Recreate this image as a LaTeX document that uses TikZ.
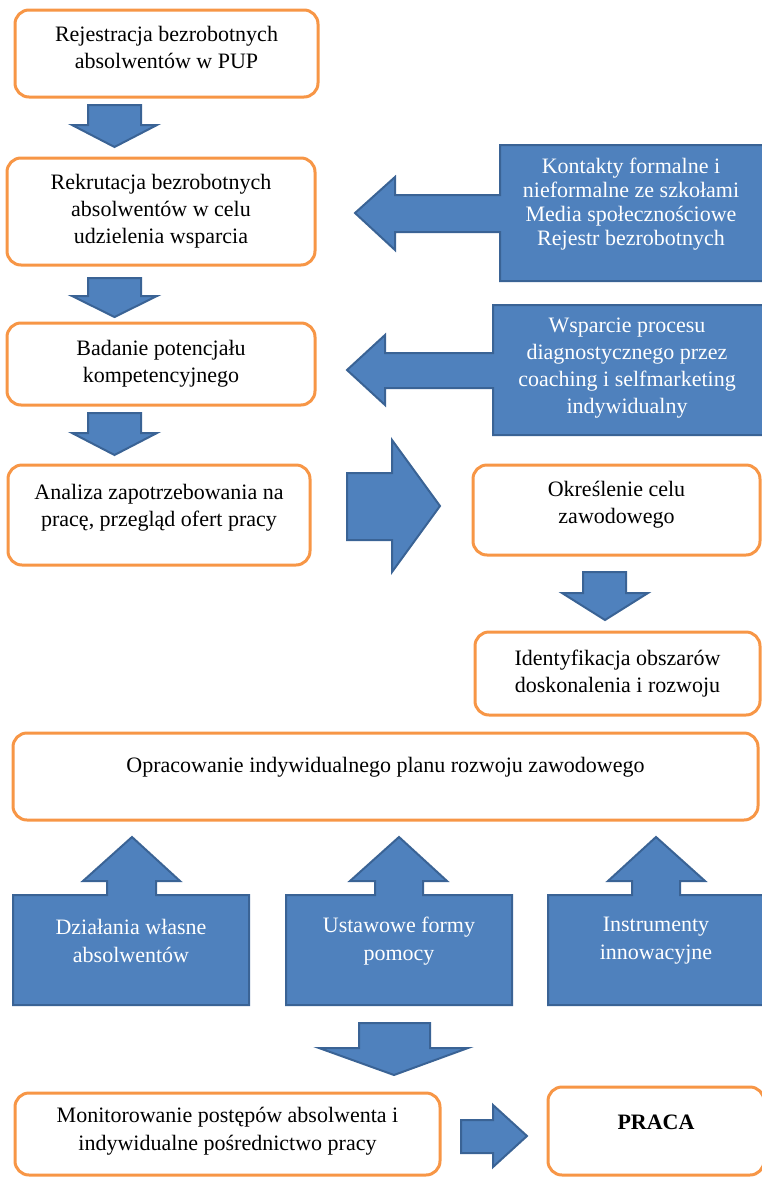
\documentclass[tikz,border=0pt]{standalone}
\usepackage{fontspec}
\setmainfont{Liberation Serif}
\usepackage{xcolor}
\usepackage{tikz}
\usetikzlibrary{positioning}

\definecolor{pomarancz}{HTML}{F79646}
\definecolor{niebieski}{HTML}{4F81BD}
\definecolor{ciemny}{HTML}{3A6395}

\begin{document}
\begin{tikzpicture}[
        x=1pt,
        y=-1pt,
        okno/.style={
            line width=3pt,
            draw=pomarancz,
            fill=white,
            rounded corners=14pt
        },
        tekst/.style={
            align=center,
            font=\fontsize{22}{27}\selectfont
        },
        blok/.style={
            line width=2pt,
            draw=ciemny,
            fill=niebieski,
            line join=miter
        },
        bialy/.style={
            align=center,
            text=white,
            font=\fontsize{22}{27}\selectfont
        }
    ]
                \useasboundingbox (0,0) rectangle (761,1178);

                % lewa kolumna
                \draw[okno] (15,10) rectangle (318,97)
                    node[pos=.5, tekst, yshift=6] (rejestracja) {Rejestracja bezrobotnych\\absolwentów w PUP};

                \draw[blok] (88,105) -- (141,105) -- (141,125) -- (157,125) -- (114.5,147)
                    -- (72,125) -- (88,125) -- cycle;

                \draw[okno] (7,158) rectangle (315,265)
                    node[pos=.5, tekst] (rekrutacja) {Rekrutacja bezrobotnych\\absolwentów w celu\\udzielenia wsparcia};

                \draw[blok] (88,278) -- (141,278) -- (141,296) -- (157,296) -- (114.5,317)
                    -- (72,296) -- (88,296) -- cycle;

                \draw[okno] (7,323) rectangle (315,405)
                    node[pos=.5, tekst] (badanie) {Badanie potencjału\\kompetencyjnego};

                \draw[blok] (88,413) -- (141,413) -- (141,433) -- (157,433) -- (114.5,455)
                    -- (72,433) -- (88,433) -- cycle;

                \draw[okno] (8,465) rectangle (310,565)
                    node[pos=.5, tekst, yshift=7] (analiza) {Analiza zapotrzebowania na\\pracę, przegląd ofert pracy};

                % objasnienia z prawej
                \draw[blok] (764,145) -- (500,145) -- (500,195) -- (395,195) -- (395,177)
                    -- (355,213) -- (395,250) -- (395,232) -- (500,232) -- (500,281)
                    -- (764,281) -- cycle;
                \node[bialy, font=\fontsize{22}{24}\selectfont] (kontakty) at (631,204)
                    {Kontakty formalne i\\nieformalne ze szkołami\\Media społecznościowe\\Rejestr bezrobotnych};

                \draw[blok] (764,305) -- (493,305) -- (493,353) -- (385,353) -- (385,335)
                    -- (347,370) -- (385,405) -- (385,388) -- (493,388) -- (493,435)
                    -- (764,435) -- cycle;
                \node[bialy] (wsparcie) at (627,368)
                    {Wsparcie procesu\\diagnostycznego przez\\coaching i selfmarketing\\indywidualny};

                \draw[blok] (347,473) -- (392,473) -- (392,440) -- (440,506) -- (392,572)
                    -- (392,540) -- (347,540) -- cycle;

                % prawa kolumna
                \draw[okno] (473,465) rectangle (760,555)
                    node[pos=.5, tekst, yshift=5] (cel) {Określenie celu\\zawodowego};

                \draw[blok] (583,572) -- (626,572) -- (626,593) -- (648,593) -- (605,620)
                    -- (562,593) -- (583,593) -- cycle;

                \draw[okno] (475,632) rectangle (760,715)
                    node[pos=.5, tekst] (obszary) {Identyfikacja obszarów\\doskonalenia i rozwoju};

                % plan
                \draw[okno] (13,733) rectangle (758,820)
                    node[pos=.5, tekst, yshift=9.5] (plan) {Opracowanie indywidualnego planu rozwoju zawodowego};

                \draw[blok] (13,1005) -- (13,895) -- (107,895) -- (107,881) -- (83,881)
                    -- (132,837) -- (180,881) -- (156,881) -- (156,895) -- (249,895)
                    -- (249,1005) -- cycle;
                \node[bialy, font=\fontsize{22}{28}\selectfont] (dzialania) at (131,941)
                    {Działania własne\\absolwentów};

                \draw[blok] (286,1005) -- (286,895) -- (375,895) -- (375,881) -- (350,881)
                    -- (399,837) -- (447,881) -- (423,881) -- (423,895) -- (512,895)
                    -- (512,1005) -- cycle;
                \node[bialy, font=\fontsize{22}{28}\selectfont] (ustawowe) at (399,941)
                    {Ustawowe formy\\pomocy};

                \draw[blok] (548,1005) -- (548,895) -- (632,895) -- (632,881) -- (608,881)
                    -- (656,837) -- (705,881) -- (680,881) -- (680,895) -- (764,895)
                    -- (764,1005) -- cycle;
                \node[bialy, font=\fontsize{22}{28}\selectfont] (instrumenty) at (656,941)
                    {Instrumenty\\innowacyjne};

                \draw[blok] (359,1023) -- (430,1023) -- (430,1048) -- (468,1048) -- (394,1075)
                    -- (319,1048) -- (359,1048) -- cycle;

                % dol
                \draw[okno] (15,1093) rectangle (440,1175)
                    node[pos=.5, tekst, font=\fontsize{22}{28}\selectfont, yshift=3] (monitoring)
                    {Monitorowanie postępów absolwenta i\\indywidualne pośrednictwo pracy};

                \draw[blok] (461,1120) -- (493,1120) -- (493,1105) -- (527,1136) -- (493,1167)
                    -- (493,1153) -- (461,1153) -- cycle;

                \draw[okno] (548,1087) rectangle (764,1175)
                    node[pos=.5, tekst, font=\bfseries\fontsize{22}{27}\selectfont, yshift=9] (praca) {PRACA};

            \end{tikzpicture}
\end{document}
